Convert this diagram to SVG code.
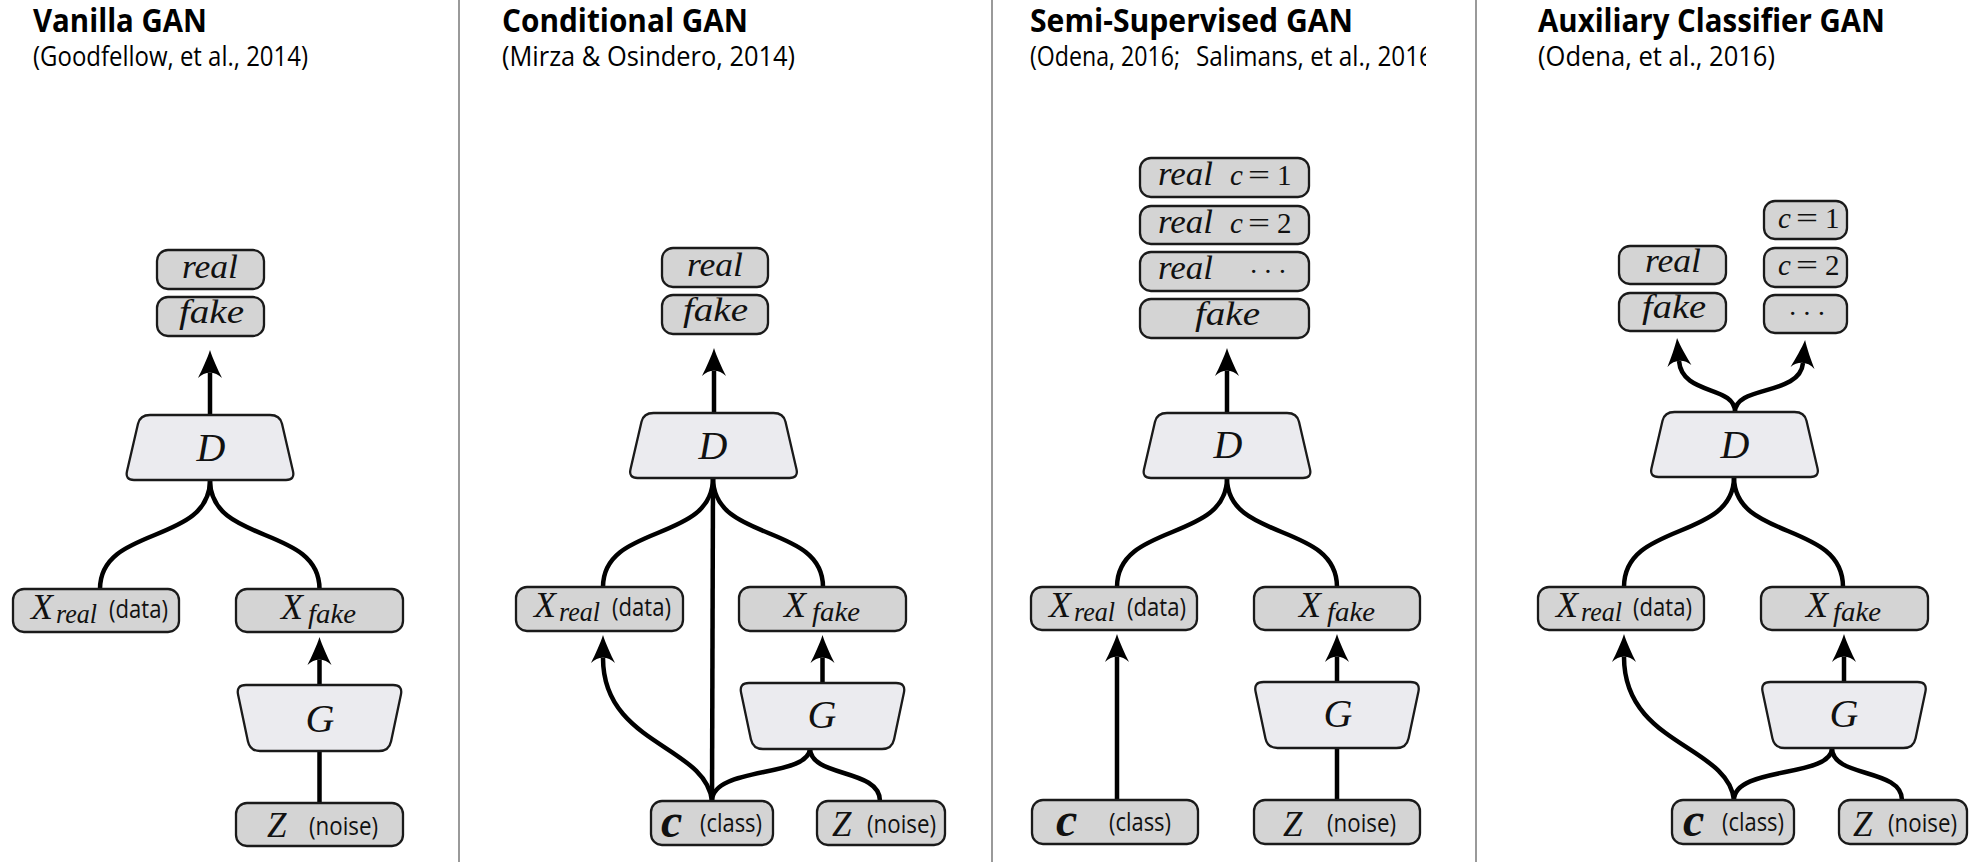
<svg xmlns="http://www.w3.org/2000/svg" xmlns:xlink="http://www.w3.org/1999/xlink" width="1974" height="862" viewBox="0 0 1974 862">
<style>
.title{font-family:"Open Sans","Noto Sans",sans-serif;font-weight:700;font-size:32px;fill:#000}
.sub{font-family:"Open Sans","Noto Sans",sans-serif;font-size:27px;fill:#000}
.lbl{font-family:"Open Sans","Noto Sans",sans-serif;font-size:25px;fill:#111}
.m{font-family:"Liberation Serif","DejaVu Serif",serif;font-style:italic;fill:#111}
.mr{font-family:"Liberation Serif","DejaVu Serif",serif;fill:#111}
.box{fill:#d4d4d4;stroke:#1a1a1a;stroke-width:2.3}
.trap{fill:#ebebef;stroke:#1a1a1a;stroke-width:2.3}
.edge{fill:none;stroke:#000;stroke-width:4.5}
.arr{fill:none;stroke:#000;stroke-width:4.5;marker-end:url(#ah)}
.div{stroke:#9a9a9a;stroke-width:2}
</style>
<defs>
<marker id="ah" viewBox="0 -13 30 26" markerWidth="30" markerHeight="26" refX="5" refY="0" orient="auto" markerUnits="userSpaceOnUse">
<path d="M28,0 C20,-2.5 8,-8 0,-12 C7,-5 7,5 0,12 C8,8 20,2.5 28,0 Z" fill="#000"/>
</marker>
<path id="dshape" d="M-60,0 L60,0 Q70,0 72.0,8.8 L83.0,56.2 Q85,65 76,65 L-76,65 Q-85,65 -83.0,56.2 L-72.0,8.8 Q-70,0 -60,0 Z"/>
<path id="gshape" d="M-73.5,0 L73.5,0 Q83.5,0 81.4,9.8 L71.6,56.2 Q69.5,66 59.5,66 L-59.5,66 Q-69.5,66 -71.6,56.2 L-81.4,9.8 Q-83.5,0 -73.5,0 Z"/>
<clipPath id="clipSub3"><rect x="1000" y="30" width="426" height="50"/></clipPath>
</defs>
<rect width="1974" height="862" fill="#fff"/>

<g id="dividers">
<line class="div" x1="459" y1="0" x2="459" y2="862"/>
<line class="div" x1="992" y1="0" x2="992" y2="862"/>
<line class="div" x1="1476" y1="0" x2="1476" y2="862"/>
</g>

<g id="headings">
<text class="title" x="33" y="32" textLength="174" lengthAdjust="spacingAndGlyphs">Vanilla GAN</text>
<text class="sub" x="33" y="66" textLength="275" lengthAdjust="spacingAndGlyphs">(Goodfellow, et al., 2014)</text>
<text class="title" x="502" y="32" textLength="246" lengthAdjust="spacingAndGlyphs">Conditional GAN</text>
<text class="sub" x="502" y="66" textLength="293" lengthAdjust="spacingAndGlyphs">(Mirza &amp; Osindero, 2014)</text>
<text class="title" x="1030" y="32" textLength="323" lengthAdjust="spacingAndGlyphs">Semi-Supervised GAN</text>
<g clip-path="url(#clipSub3)">
<text class="sub" x="1030" y="66" textLength="150" lengthAdjust="spacingAndGlyphs">(Odena, 2016;</text>
<text class="sub" x="1196" y="66" textLength="237" lengthAdjust="spacingAndGlyphs">Salimans, et al., 2016</text>
</g>
<text class="title" x="1538" y="32" textLength="347" lengthAdjust="spacingAndGlyphs">Auxiliary Classifier GAN</text>
<text class="sub" x="1538" y="66" textLength="237" lengthAdjust="spacingAndGlyphs">(Odena, et al., 2016)</text>
</g>

<g id="connectors">
<path class="arr" d="M210,415 L210,373"/>
<path class="edge" d="M210,480 C210,545 100,525 100,589"/>
<path class="edge" d="M210,480 C210,545 319.5,525 319.5,589"/>
<path class="arr" d="M319.5,685 L319.5,660"/>
<path class="edge" d="M319.5,751 L319.5,803"/>
<path class="arr" d="M714,413 L714,371"/>
<path class="edge" d="M713,478 C713,543 603,523 603,587"/>
<path class="edge" d="M713,478 C713,543 823,523 823,587"/>
<path class="edge" d="M713,478 L712,801"/>
<path class="arr" d="M712,801 C706,745 603,745 603,658"/>
<path class="arr" d="M822.5,683 L822.5,658"/>
<path class="edge" d="M810,748 C810,778 712,766 712,801"/>
<path class="edge" d="M810,748 C810,778 880,768 880,801"/>
<path class="arr" d="M1227,413 L1227,371"/>
<path class="edge" d="M1227,478 C1227,542 1117,522 1117,587"/>
<path class="edge" d="M1227,478 C1227,542 1337,522 1337,587"/>
<path class="arr" d="M1117,800 L1117,657"/>
<path class="arr" d="M1337,682 L1337,657"/>
<path class="edge" d="M1337,748 L1337,800"/>
<path class="arr" d="M1735,412 C1735,385 1682,396 1679,361"/>
<path class="arr" d="M1735,412 C1735,385 1800,396 1803,363"/>
<path class="edge" d="M1734,477 C1734,541 1624,521 1624,587"/>
<path class="edge" d="M1734,477 C1734,541 1843,521 1843,587"/>
<path class="arr" d="M1734,800 C1728,745 1624,745 1624,657"/>
<path class="arr" d="M1844,682 L1844,657"/>
<path class="edge" d="M1832,748 C1832,778 1734,766 1734,800"/>
<path class="edge" d="M1832,748 C1832,778 1902,768 1902,800"/>
</g>

<!-- Panel 1 nodes -->
<g id="p1-real"><rect class="box" x="157" y="250" width="107" height="39" rx="11"/><text class="m" x="182" y="278" font-size="33" textLength="56" lengthAdjust="spacingAndGlyphs">real</text></g>
<g id="p1-fake"><rect class="box" x="157" y="297" width="107" height="39" rx="11"/><text class="m" x="179" y="323" font-size="33" textLength="65" lengthAdjust="spacingAndGlyphs">fake</text></g>
<g id="p1-D"><use href="#dshape" x="210" y="415" class="trap"/><text class="m" x="211" y="461" font-size="40" text-anchor="middle">D</text></g>
<g id="p1-xreal"><rect class="box" x="13" y="589" width="166" height="43" rx="11"/><text class="m" x="31" y="619" font-size="36">X</text><text class="m" x="56" y="623" font-size="27" textLength="41" lengthAdjust="spacingAndGlyphs">real</text><text class="lbl" x="109" y="618" textLength="59" lengthAdjust="spacingAndGlyphs">(data)</text></g>
<g id="p1-xfake"><rect class="box" x="236" y="589" width="167" height="43" rx="11"/><text class="m" x="281" y="619" font-size="36">X</text><text class="m" x="308" y="623" font-size="27" textLength="48" lengthAdjust="spacingAndGlyphs">fake</text></g>
<g id="p1-G"><use href="#gshape" x="319.5" y="685" class="trap"/><text class="m" x="320" y="732" font-size="40" text-anchor="middle">G</text></g>
<g id="p1-z"><rect class="box" x="236" y="803" width="167" height="43" rx="11"/><text class="m" x="267" y="837" font-size="35">Z</text><text class="lbl" x="309" y="835" textLength="69" lengthAdjust="spacingAndGlyphs">(noise)</text></g>

<!-- Panel 2 nodes -->
<g id="p2-real"><rect class="box" x="662" y="248" width="106" height="39" rx="11"/><text class="m" x="687" y="276" font-size="33" textLength="56" lengthAdjust="spacingAndGlyphs">real</text></g>
<g id="p2-fake"><rect class="box" x="662" y="295" width="106" height="39" rx="11"/><text class="m" x="683" y="321" font-size="33" textLength="65" lengthAdjust="spacingAndGlyphs">fake</text></g>
<g id="p2-D"><use href="#dshape" x="713.5" y="413" class="trap"/><text class="m" x="713" y="459" font-size="40" text-anchor="middle">D</text></g>
<g id="p2-xreal"><rect class="box" x="516" y="587" width="167" height="44" rx="11"/><text class="m" x="534" y="617" font-size="36">X</text><text class="m" x="559" y="621" font-size="27" textLength="41" lengthAdjust="spacingAndGlyphs">real</text><text class="lbl" x="612" y="616" textLength="59" lengthAdjust="spacingAndGlyphs">(data)</text></g>
<g id="p2-xfake"><rect class="box" x="739" y="587" width="167" height="44" rx="11"/><text class="m" x="784" y="617" font-size="36">X</text><text class="m" x="812" y="621" font-size="27" textLength="48" lengthAdjust="spacingAndGlyphs">fake</text></g>
<g id="p2-G"><use href="#gshape" x="822.5" y="683" class="trap"/><text class="m" x="822" y="728" font-size="40" text-anchor="middle">G</text></g>
<g id="p2-c"><rect class="box" x="651" y="801" width="122" height="44" rx="11"/><text class="m" x="661" y="837" font-size="48" font-weight="700">c</text><text class="lbl" x="700" y="832" textLength="62" lengthAdjust="spacingAndGlyphs">(class)</text></g>
<g id="p2-z"><rect class="box" x="817" y="801" width="128" height="44" rx="11"/><text class="m" x="832" y="836" font-size="35">Z</text><text class="lbl" x="867" y="833" textLength="69" lengthAdjust="spacingAndGlyphs">(noise)</text></g>

<!-- Panel 3 nodes -->
<g id="p3-real1"><rect class="box" x="1140" y="158" width="169" height="39" rx="11"/><text class="m" x="1158" y="185" font-size="33" textLength="55" lengthAdjust="spacingAndGlyphs">real</text><text class="m" x="1230" y="185" font-size="29">c</text><text class="mr" x="1248" y="185" font-size="30" textLength="22" lengthAdjust="spacingAndGlyphs">=</text><text class="mr" x="1277" y="185" font-size="29">1</text></g>
<g id="p3-real2"><rect class="box" x="1140" y="206" width="169" height="38" rx="11"/><text class="m" x="1158" y="233" font-size="33" textLength="55" lengthAdjust="spacingAndGlyphs">real</text><text class="m" x="1230" y="233" font-size="29">c</text><text class="mr" x="1248" y="233" font-size="30" textLength="22" lengthAdjust="spacingAndGlyphs">=</text><text class="mr" x="1277" y="233" font-size="29">2</text></g>
<g id="p3-real3"><rect class="box" x="1140" y="252" width="169" height="39" rx="11"/><text class="m" x="1158" y="279" font-size="33" textLength="55" lengthAdjust="spacingAndGlyphs">real</text><text class="mr" x="1249" y="281" font-size="28" letter-spacing="5">···</text></g>
<g id="p3-fake"><rect class="box" x="1140" y="299" width="169" height="39" rx="11"/><text class="m" x="1195" y="325" font-size="33" textLength="65" lengthAdjust="spacingAndGlyphs">fake</text></g>
<g id="p3-D"><use href="#dshape" x="1227" y="413" class="trap"/><text class="m" x="1228" y="458" font-size="40" text-anchor="middle">D</text></g>
<g id="p3-xreal"><rect class="box" x="1031" y="587" width="166" height="43" rx="11"/><text class="m" x="1049" y="617" font-size="36">X</text><text class="m" x="1074" y="621" font-size="27" textLength="41" lengthAdjust="spacingAndGlyphs">real</text><text class="lbl" x="1127" y="616" textLength="59" lengthAdjust="spacingAndGlyphs">(data)</text></g>
<g id="p3-xfake"><rect class="box" x="1254" y="587" width="166" height="43" rx="11"/><text class="m" x="1299" y="617" font-size="36">X</text><text class="m" x="1327" y="621" font-size="27" textLength="48" lengthAdjust="spacingAndGlyphs">fake</text></g>
<g id="p3-G"><use href="#gshape" x="1337" y="682" class="trap"/><text class="m" x="1338" y="727" font-size="40" text-anchor="middle">G</text></g>
<g id="p3-c"><rect class="box" x="1032" y="800" width="166" height="44" rx="11"/><text class="m" x="1056" y="836" font-size="48" font-weight="700">c</text><text class="lbl" x="1109" y="831" textLength="62" lengthAdjust="spacingAndGlyphs">(class)</text></g>
<g id="p3-z"><rect class="box" x="1254" y="800" width="166" height="44" rx="11"/><text class="m" x="1283" y="836" font-size="35">Z</text><text class="lbl" x="1327" y="832" textLength="69" lengthAdjust="spacingAndGlyphs">(noise)</text></g>

<!-- Panel 4 nodes -->
<g id="p4-real"><rect class="box" x="1619" y="246" width="107" height="38" rx="11"/><text class="m" x="1645" y="272" font-size="33" textLength="56" lengthAdjust="spacingAndGlyphs">real</text></g>
<g id="p4-fake"><rect class="box" x="1619" y="293" width="107" height="38" rx="11"/><text class="m" x="1642" y="318" font-size="33" textLength="64" lengthAdjust="spacingAndGlyphs">fake</text></g>
<g id="p4-c1"><rect class="box" x="1764" y="201" width="83" height="38" rx="11"/><text class="m" x="1778" y="228" font-size="29">c</text><text class="mr" x="1796" y="228" font-size="30" textLength="22" lengthAdjust="spacingAndGlyphs">=</text><text class="mr" x="1825" y="228" font-size="29">1</text></g>
<g id="p4-c2"><rect class="box" x="1764" y="248" width="83" height="39" rx="11"/><text class="m" x="1778" y="275" font-size="29">c</text><text class="mr" x="1796" y="275" font-size="30" textLength="22" lengthAdjust="spacingAndGlyphs">=</text><text class="mr" x="1825" y="275" font-size="29">2</text></g>
<g id="p4-cdots"><rect class="box" x="1764" y="295" width="83" height="38" rx="11"/><text class="mr" x="1788" y="323" font-size="28" letter-spacing="5">···</text></g>
<g id="p4-D"><use href="#dshape" x="1734.5" y="412" class="trap"/><text class="m" x="1735" y="458" font-size="40" text-anchor="middle">D</text></g>
<g id="p4-xreal"><rect class="box" x="1538" y="587" width="166" height="43" rx="11"/><text class="m" x="1556" y="617" font-size="36">X</text><text class="m" x="1581" y="621" font-size="27" textLength="41" lengthAdjust="spacingAndGlyphs">real</text><text class="lbl" x="1633" y="616" textLength="59" lengthAdjust="spacingAndGlyphs">(data)</text></g>
<g id="p4-xfake"><rect class="box" x="1761" y="587" width="167" height="43" rx="11"/><text class="m" x="1806" y="617" font-size="36">X</text><text class="m" x="1833" y="621" font-size="27" textLength="48" lengthAdjust="spacingAndGlyphs">fake</text></g>
<g id="p4-G"><use href="#gshape" x="1844" y="682" class="trap"/><text class="m" x="1844" y="727" font-size="40" text-anchor="middle">G</text></g>
<g id="p4-c"><rect class="box" x="1672" y="800" width="122" height="44" rx="11"/><text class="m" x="1683" y="836" font-size="48" font-weight="700">c</text><text class="lbl" x="1722" y="831" textLength="62" lengthAdjust="spacingAndGlyphs">(class)</text></g>
<g id="p4-z"><rect class="box" x="1839" y="800" width="128" height="44" rx="11"/><text class="m" x="1853" y="836" font-size="35">Z</text><text class="lbl" x="1888" y="832" textLength="69" lengthAdjust="spacingAndGlyphs">(noise)</text></g>
</svg>
